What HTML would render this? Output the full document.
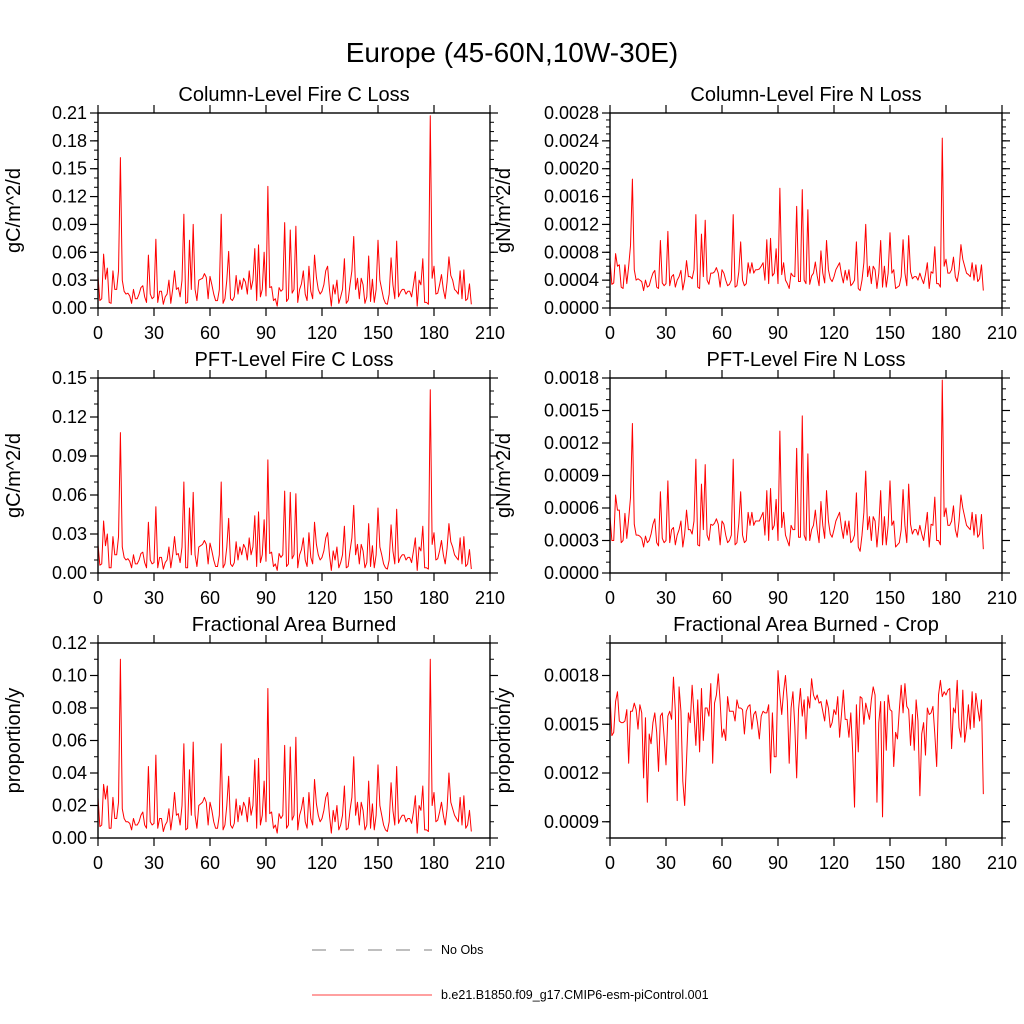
<!DOCTYPE html>
<html><head><meta charset="utf-8"><style>
html,body{margin:0;padding:0;background:#fff;}
svg{display:block;font-family:"Liberation Sans",sans-serif;}
</style></head><body>
<svg id="chart" width="1024" height="1024" viewBox="0 0 1024 1024" xmlns="http://www.w3.org/2000/svg">
<text x="512" y="62" font-size="28" text-anchor="middle">Europe (45-60N,10W-30E)</text>
<g>
<line x1="312" y1="950" x2="432" y2="950" stroke="#555" stroke-width="0.8" stroke-dasharray="14,14"/>
<text x="441" y="954" font-size="12.5">No Obs</text>
<line x1="312" y1="995" x2="432" y2="995" stroke="#f00" stroke-width="0.8"/>
<text x="441" y="999" font-size="12.5">b.e21.B1850.f09_g17.CMIP6-esm-piControl.001</text>
</g>
</svg>
<script>
const xTicks = [0,30,60,90,120,150,180,210];
const colC = [.034,.008,.010,.058,.031,.043,.006,.005,.040,.020,
.020,.040,.162,.030,.018,.015,.016,.013,.005,.020,
.010,.010,.015,.022,.024,.012,.006,.057,.015,.010,
.012,.074,.006,.018,.018,.004,.012,.015,.030,.005,
.020,.040,.020,.022,.012,.030,.101,.005,.006,.073,
.020,.090,.020,.008,.030,.031,.032,.037,.033,.010,
.034,.025,.015,.008,.008,.020,.101,.005,.010,.030,
.061,.010,.008,.012,.035,.015,.030,.020,.032,.028,
.015,.040,.020,.030,.064,.008,.068,.012,.020,.060,
.013,.131,.022,.023,.008,.010,.002,.022,.018,.020,
.092,.007,.010,.084,.016,.020,.088,.006,.020,.026,
.040,.015,.008,.045,.018,.010,.057,.033,.020,.015,
.018,.025,.040,.045,.020,.002,.025,.015,.030,.005,
.012,.020,.053,.005,.008,.025,.040,.077,.020,.032,
.010,.032,.025,.005,.012,.056,.007,.031,.006,.020,
.073,.030,.020,.010,.005,.004,.015,.054,.025,.010,
.072,.012,.017,.020,.020,.015,.018,.018,.012,.025,
.039,.002,.030,.025,.053,.006,.006,.004,.207,.032,
.045,.015,.016,.025,.036,.020,.010,.028,.055,.035,
.030,.020,.018,.015,.040,.010,.041,.008,.010,.026,.004];
const colN = [.00068,.00034,.00036,.00078,.00060,.00062,.00030,.00028,.00062,.00035,
.00060,.00090,.00185,.00055,.00040,.00042,.00040,.00038,.00025,.00040,
.00030,.00032,.00042,.00050,.00054,.00030,.00028,.00097,.00036,.00032,
.00035,.00110,.00032,.00045,.00048,.00030,.00040,.00045,.00054,.00026,
.00040,.00068,.00045,.00045,.00042,.00055,.00134,.00030,.00028,.00106,
.00045,.00126,.00040,.00034,.00050,.00050,.00052,.00058,.00050,.00030,
.00055,.00050,.00040,.00032,.00034,.00040,.00134,.00030,.00032,.00052,
.00095,.00040,.00032,.00035,.00065,.00050,.00065,.00050,.00055,.00055,
.00056,.00060,.00065,.00040,.00098,.00035,.00100,.00046,.00050,.00085,
.00035,.00172,.00048,.00065,.00040,.00035,.00028,.00050,.00046,.00045,
.00146,.00038,.00038,.00170,.00040,.00035,.00141,.00034,.00046,.00050,
.00066,.00046,.00032,.00082,.00050,.00036,.00097,.00055,.00042,.00038,
.00045,.00055,.00060,.00065,.00048,.00036,.00054,.00040,.00055,.00032,
.00035,.00040,.00095,.00028,.00025,.00040,.00065,.00120,.00045,.00060,
.00035,.00060,.00055,.00028,.00050,.00097,.00030,.00060,.00030,.00050,
.00108,.00050,.00055,.00028,.00030,.00032,.00045,.00098,.00050,.00032,
.00104,.00052,.00042,.00045,.00045,.00040,.00050,.00042,.00035,.00048,
.00065,.00028,.00052,.00050,.00088,.00035,.00035,.00030,.00244,.00060,
.00070,.00050,.00050,.00055,.00073,.00045,.00038,.00055,.00091,.00070,
.00060,.00050,.00048,.00045,.00065,.00040,.00062,.00038,.00042,.00062,.00025];
const pftC = [.022,.006,.007,.040,.021,.030,.004,.004,.028,.014,
.014,.028,.108,.020,.012,.010,.011,.009,.004,.014,
.007,.007,.010,.015,.016,.008,.004,.039,.010,.007,
.008,.051,.004,.012,.012,.003,.008,.010,.020,.004,
.014,.028,.014,.015,.008,.020,.070,.004,.004,.050,
.014,.062,.014,.005,.020,.021,.022,.025,.022,.007,
.023,.017,.010,.005,.005,.014,.070,.004,.007,.020,
.042,.007,.005,.008,.024,.010,.020,.014,.022,.019,
.010,.027,.014,.020,.044,.005,.047,.008,.014,.041,
.009,.087,.015,.016,.005,.007,.002,.015,.012,.014,
.063,.005,.007,.062,.011,.014,.061,.004,.014,.018,
.027,.010,.005,.031,.012,.007,.039,.022,.014,.010,
.012,.017,.027,.031,.014,.002,.017,.010,.020,.004,
.008,.014,.036,.004,.005,.017,.027,.052,.014,.022,
.007,.022,.017,.004,.008,.038,.005,.021,.004,.014,
.050,.020,.014,.007,.004,.003,.010,.037,.017,.007,
.049,.008,.012,.014,.014,.010,.012,.012,.008,.017,
.027,.002,.020,.017,.036,.004,.004,.003,.141,.022,
.031,.010,.011,.017,.025,.014,.007,.019,.038,.024,
.020,.014,.012,.010,.027,.007,.028,.005,.007,.018,.003];
const pftN = [.00052,.00030,.00030,.00072,.00058,.00058,.00028,.00030,.00055,.00032,
.00050,.00070,.00138,.00045,.00035,.00035,.00034,.00032,.00024,.00034,
.00028,.00030,.00036,.00045,.00050,.00028,.00025,.00075,.00032,.00028,
.00030,.00085,.00028,.00040,.00042,.00026,.00035,.00040,.00048,.00024,
.00036,.00058,.00040,.00040,.00036,.00048,.00105,.00026,.00025,.00082,
.00040,.00100,.00035,.00030,.00045,.00044,.00046,.00050,.00045,.00026,
.00048,.00045,.00035,.00028,.00030,.00035,.00105,.00026,.00028,.00046,
.00075,.00035,.00028,.00030,.00056,.00044,.00056,.00044,.00048,.00048,
.00048,.00052,.00056,.00035,.00076,.00030,.00078,.00040,.00044,.00068,
.00030,.00131,.00042,.00056,.00035,.00030,.00025,.00044,.00040,.00040,
.00115,.00033,.00033,.00145,.00035,.00030,.00110,.00030,.00040,.00044,
.00058,.00040,.00028,.00066,.00044,.00032,.00076,.00048,.00036,.00033,
.00040,.00048,.00052,.00056,.00042,.00032,.00048,.00035,.00048,.00028,
.00030,.00035,.00074,.00024,.00020,.00035,.00056,.00094,.00040,.00052,
.00030,.00052,.00048,.00024,.00044,.00076,.00026,.00052,.00026,.00044,
.00085,.00044,.00048,.00024,.00026,.00028,.00040,.00077,.00044,.00028,
.00082,.00045,.00036,.00040,.00040,.00035,.00044,.00036,.00030,.00042,
.00056,.00024,.00045,.00044,.00070,.00030,.00030,.00026,.00178,.00052,
.00060,.00044,.00044,.00048,.00062,.00040,.00033,.00048,.00072,.00060,
.00052,.00044,.00042,.00040,.00056,.00035,.00054,.00033,.00036,.00054,.00022];
const fracA = [.025,.007,.008,.033,.024,.032,.006,.006,.025,.012,
.012,.022,.110,.018,.012,.010,.010,.009,.005,.012,
.008,.008,.010,.014,.016,.008,.006,.044,.010,.008,
.009,.051,.006,.012,.012,.004,.008,.010,.018,.005,
.014,.028,.014,.015,.008,.020,.058,.005,.006,.042,
.014,.059,.014,.006,.020,.021,.022,.025,.022,.008,
.022,.017,.010,.006,.006,.014,.058,.005,.008,.020,
.038,.008,.006,.009,.024,.010,.020,.014,.022,.019,
.010,.025,.014,.020,.048,.006,.049,.008,.014,.035,
.010,.092,.015,.016,.006,.008,.003,.015,.012,.014,
.057,.006,.008,.056,.011,.014,.062,.005,.014,.018,
.025,.010,.006,.028,.012,.008,.036,.021,.014,.010,
.012,.017,.025,.028,.014,.003,.017,.010,.020,.005,
.008,.014,.032,.005,.006,.017,.025,.050,.014,.022,
.008,.022,.017,.005,.008,.035,.006,.021,.005,.014,
.045,.020,.014,.008,.005,.004,.010,.034,.017,.008,
.044,.009,.012,.014,.014,.010,.012,.012,.009,.016,
.026,.003,.020,.017,.032,.005,.005,.004,.110,.020,
.028,.010,.011,.016,.022,.014,.008,.018,.040,.022,
.018,.014,.012,.010,.025,.008,.026,.006,.008,.017,.004];
const cropA = [.00168,.00143,.00145,.00164,.00170,.00152,.00151,.00151,.00152,.00159,
.00126,.00158,.00158,.00163,.00159,.00147,.00162,.00157,.00117,.00154,
.00102,.00144,.00138,.00151,.00157,.00145,.00121,.00155,.00157,.00142,
.00125,.00155,.00158,.00153,.00179,.00158,.00103,.00173,.00158,.00115,
.00100,.00128,.00157,.00151,.00174,.00156,.00137,.00165,.00133,.00172,
.00140,.00160,.00160,.00155,.00175,.00126,.00163,.00168,.00181,.00164,
.00142,.00147,.00140,.00167,.00158,.00158,.00158,.00152,.00165,.00160,.00160,.00159,.00144,
.00158,.00161,.00162,.00147,.00156,.00158,.00151,.00141,.00155,.00158,.00157,
.00157,.00162,.00120,.00157,.00130,.00130,.00183,.00168,.00156,.00170,
.00180,.00164,.00126,.00160,.00170,.00149,.00117,.00159,.00172,.00155,
.00165,.00141,.00167,.00160,.00178,.00168,.00165,.00168,.00163,.00164,
.00158,.00152,.00165,.00160,.00148,
.00151,.00159,.00156,.00167,.00142,.00156,.00171,.00153,.00153,.00142,
.00157,.00133,.00099,.00162,.00133,.00167,.00166,.00150,.00163,.00158,.00153,.00165,.00173,
.00168,.00102,.00151,.00164,.00093,.00164,.00134,.00168,.00159,.00158,
.00124,.00145,.00141,.00159,.00174,.00157,.00175,.00161,.00159,.00137,
.00156,.00134,.00165,.00152,.00106,.00144,.00151,.00131,.00160,.00156,
.00157,.00161,.00144,.00124,.00168,.00177,.00167,.00170,.00168,.00171,
.00172,.00135,.00160,.00157,.00177,.00148,.00142,.00171,.00139,.00148,
.00162,.00147,.00170,.00148,.00169,.00160,.00152,.00165,.00107];

const NS = "http://www.w3.org/2000/svg";
const svg = document.getElementById('chart');
function mk(tag, attrs, parent){
  const e = document.createElementNS(NS, tag);
  for (const k in attrs) e.setAttribute(k, attrs[k]);
  (parent||svg).appendChild(e);
  return e;
}
function panel(p){
  const g = mk('g', {});
  
  
  const x0=p.x, y0=p.y, w=p.w, h=p.h;
  const sx = v => x0 + (v-0)/(210-0)*w;
  const sy = v => y0 + h - (v-p.ymin)/(p.ymax-p.ymin)*h;
  let d='';
  p.data.forEach((v,i)=>{ d += (i?'L':'M') + sx(i).toFixed(2) + ',' + sy(v).toFixed(2); });
  const line = mk('path', {d:d, fill:'none', stroke:'#ff0000', 'stroke-width':1, 'stroke-linejoin':'round'}, g);
  
  
  const fr = mk('rect', {x:x0, y:y0, width:w, height:h, fill:'none', stroke:'#000', 'stroke-width':1.4}, g);
  
  
  xTicks.forEach(t=>{
    const X = sx(t);
    mk('line', {x1:X, y1:y0+h, x2:X, y2:y0+h+8, stroke:'#000','stroke-width':1.2}, g);
    mk('line', {x1:X, y1:y0, x2:X, y2:y0-8, stroke:'#000','stroke-width':1.2}, g);
    const tl = mk('text', {x:X, y:y0+h+31, 'font-size':18, 'text-anchor':'middle'}, g);
    
    
    tl.textContent = t;
  });
  const eps = 1e-9;
  for (let v = Math.ceil(p.ymin/p.minor - eps)*p.minor; v <= p.ymax + eps; v += p.minor){
    const Y = sy(v);
    mk('line', {x1:x0, y1:Y, x2:x0-4, y2:Y, stroke:'#000','stroke-width':1}, g);
    mk('line', {x1:x0+w, y1:Y, x2:x0+w+4, y2:Y, stroke:'#000','stroke-width':1}, g);
  }
  for (let v = Math.ceil(p.ymin/p.major - eps)*p.major; v <= p.ymax + eps; v += p.major){
    const Y = sy(v);
    mk('line', {x1:x0, y1:Y, x2:x0-8, y2:Y, stroke:'#000','stroke-width':1.2}, g);
    mk('line', {x1:x0+w, y1:Y, x2:x0+w+8, y2:Y, stroke:'#000','stroke-width':1.2}, g);
    const yl = mk('text', {x:x0-11, y:Y+6, 'font-size':18, 'text-anchor':'end'}, g);
    
    
    yl.textContent = v.toFixed(p.dec);
  }
  const t = mk('text', {x:x0+w/2, y:y0-12, 'font-size':20, 'text-anchor':'middle'}, g);
  
  
  t.textContent = p.title;
  const cy = y0 + h/2;
  const yt = mk('text', {x:p.ytx, y:cy, 'font-size':20, 'text-anchor':'middle', transform:'rotate(-90 '+p.ytx+' '+cy+')'}, g);
  
  
  yt.textContent = p.ytitle;
}
const L=98, R=610, W=392, H=195;
panel({name:'column-fire-c-panel', x:L, y:113, w:W, h:H, ymin:0, ymax:0.21, major:0.03, minor:0.01, dec:2, title:'Column-Level Fire C Loss', ytitle:'gC/m^2/d', ytx:20, data:colC});
panel({name:'column-fire-n-panel', x:R, y:113, w:W, h:H, ymin:0, ymax:0.0028, major:0.0004, minor:0.0001, dec:4, title:'Column-Level Fire N Loss', ytitle:'gN/m^2/d', ytx:510, data:colN});
panel({name:'pft-fire-c-panel', x:L, y:378, w:W, h:H, ymin:0, ymax:0.15, major:0.03, minor:0.01, dec:2, title:'PFT-Level Fire C Loss', ytitle:'gC/m^2/d', ytx:20, data:pftC});
panel({name:'pft-fire-n-panel', x:R, y:378, w:W, h:H, ymin:0, ymax:0.0018, major:0.0003, minor:0.0001, dec:4, title:'PFT-Level Fire N Loss', ytitle:'gN/m^2/d', ytx:510, data:pftN});
panel({name:'fractional-area-panel', x:L, y:643, w:W, h:H, ymin:0, ymax:0.12, major:0.02, minor:0.01, dec:2, title:'Fractional Area Burned', ytitle:'proportion/y', ytx:20, data:fracA});
panel({name:'fractional-area-crop-panel', x:R, y:643, w:W, h:H, ymin:0.0008, ymax:0.002, major:0.0003, minor:0.0001, dec:4, title:'Fractional Area Burned - Crop', ytitle:'proportion/y', ytx:510, data:cropA});
</script>
</body></html>
